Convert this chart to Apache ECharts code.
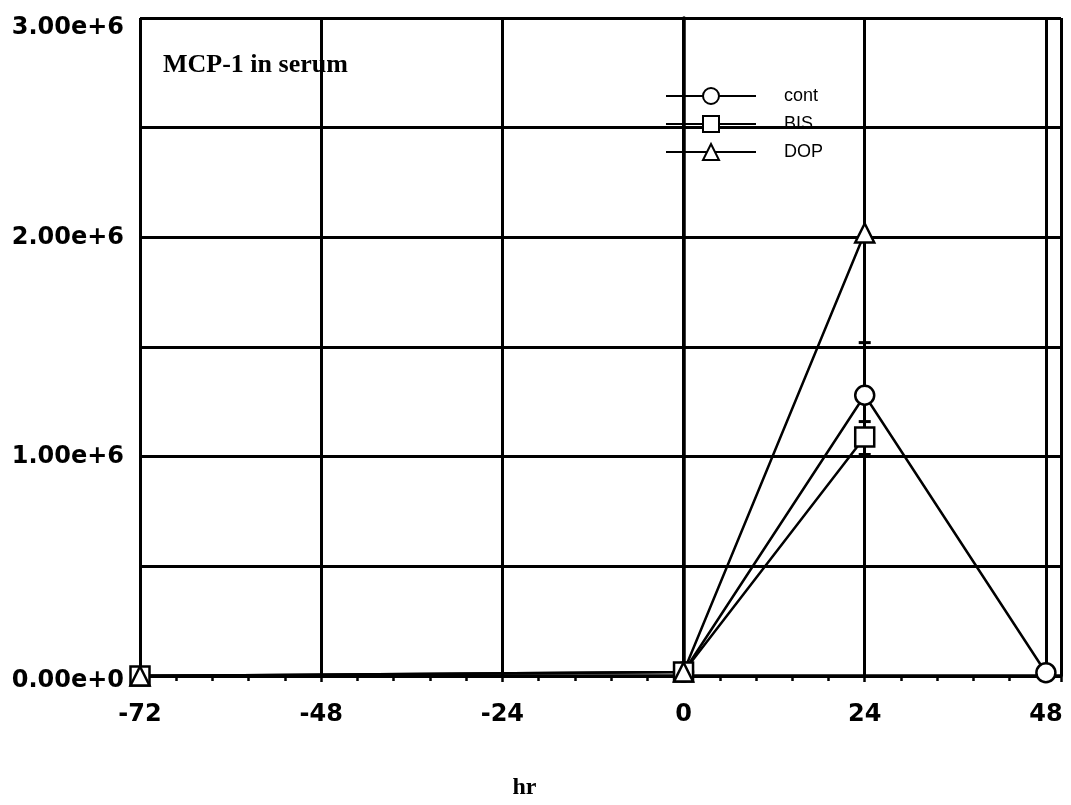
<!DOCTYPE html>
<html>
<head>
<meta charset="utf-8">
<title>MCP-1 in serum</title>
<script src="https://cdn.jsdelivr.net/npm/echarts@6/dist/echarts.min.js"></script>
<style>
  html, body { margin: 0; padding: 0; background: #fff; }
  #chartContent { width: 1071px; height: 805px; }
</style>
</head>
<body>
<div id="chartContent"></div>
<script>
// 时间点 (hr) 与三组数据
const names = ['cont', 'BIS', 'DOP'];
const symbols = ['circle', 'rect', 'triangle'];

const contData = [[0, 18000], [24, 1280000], [48, 15000]];
const bisData = [[-72, 0], [0, 18000], [24, 1090000]];
const dopData = [[-72, 0], [0, 18000], [24, 2020000]];

// 误差棒下端 [x, 均值, 下限]
const contErr = [[24, 1280000, 1160000]];
const bisErr = [[24, 1090000, 1010000]];
const dopErr = [[24, 2020000, 1520000]];

// 刻度标签
const yTicks = [0, 1000000, 2000000, 3000000];
const xTicks = [-72, -48, -24, 0, 24, 48];

const axisFont = 'DejaVu Sans';

const myChart = echarts.init(document.getElementById('chartContent'));

function lineSeries(name, symbol, data) {
    return {
        name: name,
        type: 'line',
        data: data,
        symbol: symbol,
        symbolSize: 19,
        showSymbol: true,
        lineStyle: { color: '#000', width: 2.5 },
        itemStyle: { color: '#fff', borderColor: '#000', borderWidth: 2.5 },
        z: 5
    };
}

function errSeries(data) {
    return {
        type: 'custom',
        data: data,
        z: 4,
        renderItem: function (params, api) {
            const top = api.coord([api.value(0), api.value(1)]);
            const bot = api.coord([api.value(0), api.value(2)]);
            return {
                type: 'group',
                children: [
                    { type: 'line', shape: { x1: top[0], y1: top[1], x2: bot[0], y2: bot[1] }, style: { stroke: '#000', lineWidth: 2 } },
                    { type: 'line', shape: { x1: bot[0] - 6, y1: bot[1], x2: bot[0] + 6, y2: bot[1] }, style: { stroke: '#000', lineWidth: 3 } }
                ]
            };
        }
    };
}

const option = {
    animation: false,
    backgroundColor: '#fff',
    title: {
        text: 'MCP-1 in serum',
        left: 158,
        top: 47,
        textStyle: { fontFamily: 'Liberation Serif', fontWeight: 'bold', fontSize: 26, color: '#000' }
    },
    legend: {
        data: names,
        orient: 'vertical',
        left: 660,
        top: 82,
        itemWidth: 90,
        itemHeight: 20,
        itemGap: 10,
        textStyle: { fontFamily: 'Liberation Sans', fontSize: 18, color: '#000', padding: [0, 0, 0, 23] }
    },
    grid: { left: 140, right: 10, top: 18, bottom: 129 },
    xAxis: {
        type: 'value',
        min: -72,
        max: 50,
        interval: 24,
        name: 'hr',
        nameLocation: 'middle',
        nameGap: 100,
        nameTextStyle: { fontFamily: 'Liberation Serif', fontWeight: 'bold', fontSize: 24, color: '#000', padding: [0, 152, 0, 0] },
        axisLine: { onZero: false, lineStyle: { color: '#000', width: 3.5 } },
        axisTick: { show: true, length: 6, lineStyle: { color: '#000', width: 2.5 } },
        minorTick: { show: true, splitNumber: 5, length: 5, lineStyle: { color: '#000', width: 2.5 } },
        axisLabel: {
            margin: 27,
            fontFamily: axisFont,
            fontWeight: 'bold',
            fontSize: 24,
            color: '#000',
            formatter: function (v) { return xTicks.indexOf(v) >= 0 ? String(v) : ''; }
        },
        splitLine: { show: true, lineStyle: { color: '#000', width: 3 } }
    },
    yAxis: {
        type: 'value',
        min: 0,
        max: 3000000,
        interval: 500000,
        axisLine: { show: true, lineStyle: { color: '#000', width: 3.5 } },
        axisTick: { show: false },
        axisLabel: {
            margin: 16,
            fontFamily: axisFont,
            fontWeight: 'bold',
            fontSize: 24,
            color: '#000',
            formatter: function (v) {
                if (yTicks.indexOf(v) < 0) return '';
                if (v === 0) return '{b|0.00e+0}';
                if (v === 3000000) return '{t|3.00e+6}';
                return (v / 1000000).toFixed(2) + 'e+6';
            },
            rich: {
                t: { fontFamily: axisFont, fontWeight: 'bold', fontSize: 24, color: '#000', padding: [20, 0, 0, 0] },
                b: { fontFamily: axisFont, fontWeight: 'bold', fontSize: 24, color: '#000', padding: [10, 0, 0, 0] }
            }
        },
        splitLine: { show: true, lineStyle: { color: '#000', width: 3 } }
    },
    series: [
        errSeries(contErr),
        errSeries(bisErr),
        errSeries(dopErr),
        lineSeries(names[0], symbols[0], contData),
        lineSeries(names[1], symbols[1], bisData),
        lineSeries(names[2], symbols[2], dopData)
    ]
};

myChart.setOption(option);
</script>
</body>
</html>
